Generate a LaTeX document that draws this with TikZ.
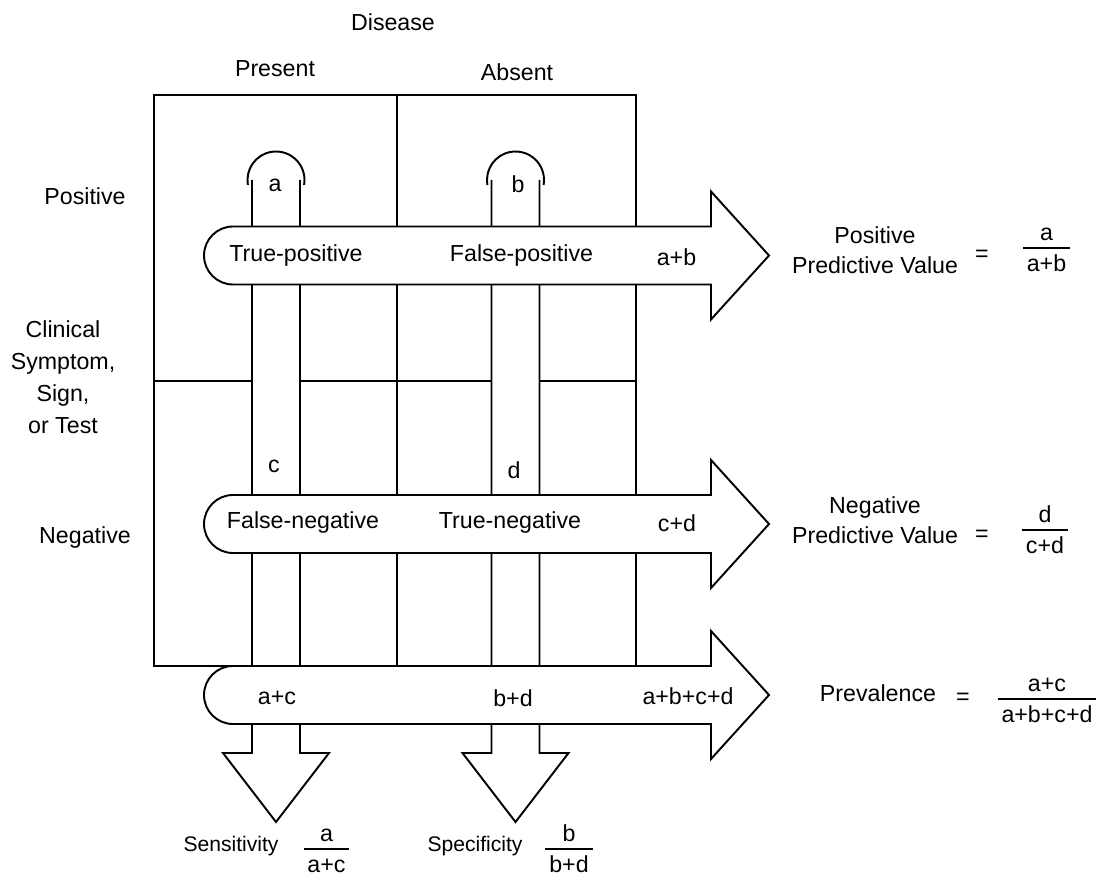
\documentclass[tikz,border=0pt]{standalone}
\usepackage{fontspec}
\setmainfont{Liberation Sans}
\usepackage{tikz}

\newcommand{\ratio}[2]{{\setlength{\arrayrulewidth}{1pt}%
  \begin{tabular}{@{\,}c@{\,}}#1\\[-1pt]\hline\rule{0pt}{13pt}#2\end{tabular}}}

\begin{document}
\begin{tikzpicture}[line width=1.1pt,
  lbl/.style={font=\fontsize{13.2}{17}\selectfont, inner sep=0pt, align=center},
  small/.style={font=\fontsize{12}{14}\selectfont, inner sep=0pt},
  band/.style={draw, fill=white}]
  \useasboundingbox (0,0) rectangle (21.98,17.58);

  % Tabla 2x2
  \draw (3.08,4.26) rectangle (12.72,15.68);
  \draw (7.94,4.26) -- (7.94,15.68);
  \draw (3.08,9.96) -- (12.72,9.96);

  % Columnas hacia abajo
  \foreach \xm in {5.52,10.31} {
    \draw[fill=white] (\xm-0.48,13.98) -- (\xm-0.48,2.52) -- (\xm-1.06,2.52) -- (\xm,1.14)
      -- (\xm+1.06,2.52) -- (\xm+0.48,2.52) -- (\xm+0.48,13.98);
    \draw (\xm,13.98) ++(190:0.57) arc[start angle=190, end angle=-10, radius=0.57];
  }

  % Filas hacia la derecha
  \foreach \y in {12.47,7.10,3.68} {
    \draw[band] (14.22,\y+0.58) -- (4.66,\y+0.58) arc[start angle=90, end angle=270, radius=0.58]
      -- (14.22,\y-0.58) -- (14.22,\y-1.28) -- (15.38,\y) -- (14.22,\y+1.28) -- cycle;
  }

  % Encabezados
  \node[lbl] (disease) at (7.86,17.14) {Disease};
  \node[lbl] (present) at (5.50,16.20) {Present};
  \node[lbl] (absent) at (10.34,16.14) {Absent};
  \node[lbl] (positive) at (1.70,13.66) {Positive};
  \node[lbl, font=\fontsize{13.2}{18.2}\selectfont] (clinical) at (1.26,10.04) {Clinical\\Symptom,\\Sign,\\or Test};
  \node[lbl] (negative) at (1.70,6.82) {Negative};

  % Celdas
  \node[lbl] (a) at (5.50,13.88) {a};
  \node[lbl] (b) at (10.36,13.90) {b};
  \node[lbl] (c) at (5.48,8.25) {c};
  \node[lbl] (d) at (10.28,8.18) {d};

  \node[lbl] (tp) at (5.92,12.46) {True-positive};
  \node[lbl] (fp) at (10.43,12.46) {False-positive};
  \node[lbl] (ab) at (13.53,12.44) {a+b};
  \node[lbl] (fn) at (6.06,7.12) {False-negative};
  \node[lbl] (tn) at (10.20,7.12) {True-negative};
  \node[lbl] (cd) at (13.54,7.12) {c+d};
  \node[lbl] (ac) at (5.54,3.62) {a+c};
  \node[lbl] (bd) at (10.26,3.62) {b+d};
  \node[lbl] (abcd) at (13.76,3.66) {a+b+c+d};

  % Valores predictivos
  \node[lbl, font=\fontsize{13.2}{17}\selectfont] (ppv) at (17.50,12.58) {Positive\\Predictive Value};
  \node[lbl] (ppveq) at (19.64,12.46) {=};
  \node[lbl] (ppvfr) at (20.93,12.58) {\ratio{a}{a+b}};
  \node[lbl] (npv) at (17.50,7.18) {Negative\\Predictive Value};
  \node[lbl] (npveq) at (19.64,6.86) {=};
  \node[lbl] (npvfr) at (20.90,6.94) {\ratio{d}{c+d}};
  \node[lbl] (prev) at (17.56,3.72) {Prevalence};
  \node[lbl] (preveq) at (19.26,3.60) {=};
  \node[lbl] (prevfr) at (20.94,3.56) {\ratio{a+c}{a+b+c+d}};

  % Sensibilidad y especificidad
  \node[small] (sens) at (4.62,0.65) {Sensitivity};
  \node[lbl] (sensfr) at (6.53,0.56) {\ratio{a}{a+c}};
  \node[small] (spec) at (9.50,0.65) {Specificity};
  \node[lbl] (specfr) at (11.38,0.56) {\ratio{b}{b+d}};
\end{tikzpicture}
\end{document}
